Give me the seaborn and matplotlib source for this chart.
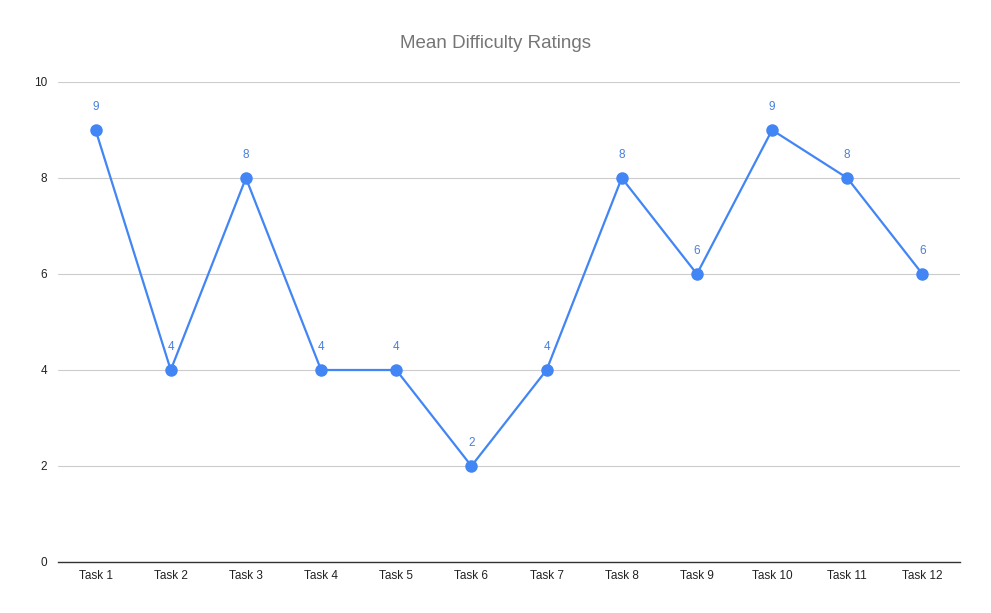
import matplotlib
matplotlib.use("Agg")
import matplotlib.pyplot as plt
import seaborn as sns
import pandas as pd

tasks = ["Task 1", "Task 2", "Task 3", "Task 4", "Task 5", "Task 6",
         "Task 7", "Task 8", "Task 9", "Task 10", "Task 11", "Task 12"]
ratings = [9, 4, 8, 4, 4, 2, 4, 8, 6, 9, 8, 6]
y_ticks = [0, 2, 4, 6, 8, 10]

sns.set_theme(style="white")
plt.rcParams['font.family'] = ['Liberation Sans', 'DejaVu Sans']

df = pd.DataFrame({"task": tasks, "rating": ratings})

fig = plt.figure(figsize=(9.91, 6.13), dpi=100)
ax = fig.add_axes([58/991, 51/613, 902/991, 480/613])

sns.lineplot(data=df, x="task", y="rating", sort=False, ax=ax,
             color="#4285F4", linewidth=1.6, marker="o", markersize=9,
             markeredgewidth=0, markerfacecolor="#4285F4")

for i, v in enumerate(ratings):
    ax.annotate(str(v), (i, v), xytext=(0, 12), textcoords="offset points",
                ha="center", va="bottom", fontsize=8.5, color="#4A7FDB")

ax.set_xlim(-0.5, len(tasks) - 0.5)
ax.set_ylim(0, 10)
ax.set_yticks(y_ticks)
ax.set_yticklabels([str(t) for t in y_ticks])
ax.set_xlabel("")
ax.set_ylabel("")
ax.grid(axis="y", color="#CCCCCC", linewidth=0.8)
ax.set_axisbelow(True)
for s in ["top", "right", "left"]:
    ax.spines[s].set_visible(False)
ax.spines["bottom"].set_color("#333333")
ax.spines["bottom"].set_linewidth(1.0)
ax.tick_params(axis="both", length=0, labelsize=8.5, colors="#222222")
ax.tick_params(axis="x", pad=6)
ax.tick_params(axis="y", pad=8)

fig.text(496/991, 1 - 44/613, "Mean Difficulty Ratings", ha="center", va="center",
         fontsize=13.5, color="#757575")

fig.savefig("out.png", dpi=100)
